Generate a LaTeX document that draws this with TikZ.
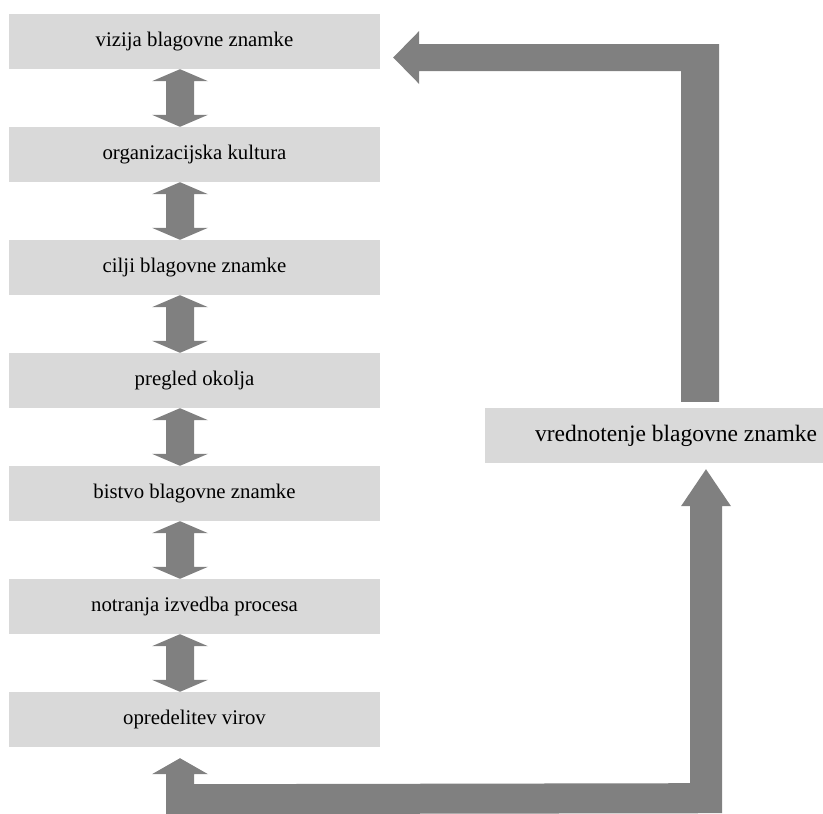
\documentclass[tikz,border=0pt]{standalone}
\usepackage{fontspec}
\setmainfont{Liberation Serif}
\usetikzlibrary{calc}
\definecolor{boxgray}{RGB}{217,217,217}
\definecolor{arrowgray}{RGB}{128,128,128}
\tikzset{
  stepbox/.style={fill=boxgray, minimum width=371pt, minimum height=55pt, inner sep=0pt,
    font=\fontsize{20.8}{24}\selectfont},
  fatarrow/.style={fill=arrowgray}
}
\begin{document}
\begin{tikzpicture}[x=1pt, y=-1pt]
    \clip (0,0) rectangle (823,814);
    \useasboundingbox (0,0) rectangle (823,814);
    % Nodes
    \node[stepbox] (b1) at (194.5,41.5) {vizija blagovne znamke};
    \node[stepbox] (b2) at (194.5,154.5) {organizacijska kultura};
    \node[stepbox] (b3) at (194.5,267.5) {cilji blagovne znamke};
    \node[stepbox] (b4) at (194.5,380.5) {pregled okolja};
    \node[stepbox] (b5) at (194.5,493.5) {bistvo blagovne znamke};
    \node[stepbox] (b6) at (194.5,606.5) {notranja izvedba procesa};
    \node[stepbox] (b7) at (194.5,719.5) {opredelitev virov};
    \node[stepbox, minimum width=382pt, font=\fontsize{23.5}{27}\selectfont] (eval) at (676,435.5) {vrednotenje blagovne znamke};
    % Connection
    \foreach \a/\b in {b1/b2, b2/b3, b3/b4, b4/b5, b5/b6, b6/b7} {
      \coordinate (t1) at ($(\a.south)+(-14.5,0)$);
      \coordinate (t2) at ($(\b.north)+(-14.5,0)$);
      \fill[fatarrow] (t1) -- ++(28,12) -- ++(-14,0) -- ($(t2)+(14,-12)$) -- ++(14,0)
        -- (t2) -- ++(-28,-12) -- ++(14,0) -- ($(t1)+(-14,12)$) -- ++(-14,0) -- cycle;
    }
    % eval -> vizija
    \coordinate (up) at ($(eval.north)+(24,-6)$);
    \coordinate (tipa) at ($(b1.east)+(13,16)$);
    \fill[fatarrow] ($(up)+(-19,0)$) -- ++(38,0) |- ($(tipa)+(26,-13.5)$) -- ++(0,-13)
      -- (tipa) -- ++(26,26.5) -- ++(0,-13) -| cycle;
    % opredelitev -> eval
    \coordinate (tipb) at ($(eval.south)+(30,6)$);
    \coordinate (tipc) at ($(b7.south)+(-14.5,11)$);
    \fill[fatarrow] (tipc) -- ++(28,16) -- ++(-14,0) -- ++(0,10) -- ($(tipb)+(-16,314)$)
      -- ($(tipb)+(-16,37)$) -- ++(-9,0) -- (tipb) -- ++(25,37) -- ++(-9,0)
      -- ($(tipb)+(16,344)$) -- ($(tipc)+(-14,56)$) -- ++(0,-40) -- ++(-14,0) -- cycle;
\end{tikzpicture}
\end{document}
